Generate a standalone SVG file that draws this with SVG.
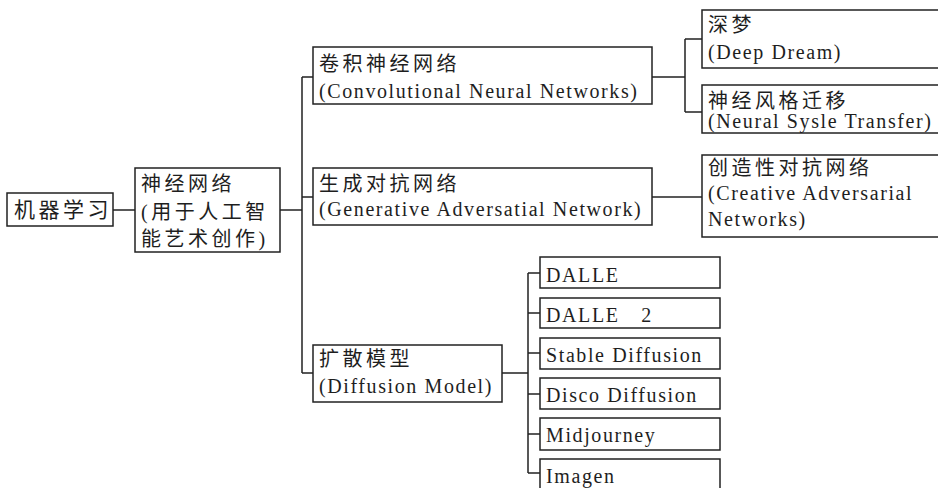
<svg xmlns="http://www.w3.org/2000/svg" width="938" height="488" viewBox="0 0 938 488">
<style>
rect{fill:#fff;stroke:#222;stroke-width:1.5}
#connectors path{fill:none;stroke:#222;stroke-width:1.5}
text{font-size:20px;fill:#1e1e1e;letter-spacing:1.6px}
.c{letter-spacing:3.5px}
</style>
<rect x="0" y="0" width="938" height="488" style="fill:#fff;stroke:none"/>
<g id="connectors">
<path d="M113,210H135"/>
<path d="M280,210H302"/>
<path d="M302,77V373M302,77H313M302,197H313M302,373H313"/>
<path d="M652,77H685M685,39V112M685,39H702M685,112H702"/>
<path d="M652,197H702"/>
<path d="M502,373H528M528,273V473M528,273H540M528,313H540M528,353H540M528,394H540M528,434H540M528,473H540"/>
</g>
<g id="nodes" font-family="Liberation Serif, Noto Sans CJK SC, serif">
<g id="ml"><rect x="7" y="193" width="106" height="33"/><text class="c" x="14" y="217" font-family="Liberation Serif, Noto Sans CJK SC, serif" style="font-size:21px">机器学习</text></g>
<g id="nn"><rect x="135" y="168" width="145" height="84"/>
<text class="c" x="141" y="191" font-family="Liberation Serif, Noto Sans CJK SC, serif">神经网络</text>
<text class="c" x="141" y="219" font-family="Liberation Serif, Noto Sans CJK SC, serif">(用于人工智</text>
<text class="c" x="141" y="246" font-family="Liberation Serif, Noto Sans CJK SC, serif">能艺术创作)</text></g>
<g id="cnn"><rect x="313" y="47" width="339" height="57"/>
<text class="c" x="319" y="71" font-family="Liberation Serif, Noto Sans CJK SC, serif">卷积神经网络</text>
<text x="319" y="98" font-family="Liberation Serif, Noto Sans CJK SC, serif">(Convolutional Neural Networks)</text></g>
<g id="deepdream"><rect x="702" y="10" width="245" height="58"/>
<text class="c" x="708" y="32" font-family="Liberation Serif, Noto Sans CJK SC, serif">深梦</text>
<text x="708" y="59" font-family="Liberation Serif, Noto Sans CJK SC, serif">(Deep Dream)</text></g>
<g id="nst"><rect x="702" y="85" width="245" height="48"/>
<text class="c" x="708" y="108" font-family="Liberation Serif, Noto Sans CJK SC, serif">神经风格迁移</text>
<text x="708" y="128" font-family="Liberation Serif, Noto Sans CJK SC, serif">(Neural Sysle Transfer)</text></g>
<g id="gan"><rect x="313" y="168" width="339" height="57"/>
<text class="c" x="319" y="191" font-family="Liberation Serif, Noto Sans CJK SC, serif">生成对抗网络</text>
<text x="319" y="216" font-family="Liberation Serif, Noto Sans CJK SC, serif">(Generative Adversatial Network)</text></g>
<g id="can"><rect x="702" y="155" width="245" height="82"/>
<text class="c" x="708" y="175" font-family="Liberation Serif, Noto Sans CJK SC, serif">创造性对抗网络</text>
<text x="708" y="200" font-family="Liberation Serif, Noto Sans CJK SC, serif">(Creative Adversarial</text>
<text x="708" y="226" font-family="Liberation Serif, Noto Sans CJK SC, serif">Networks)</text></g>
<g id="diff"><rect x="313" y="345" width="189" height="57"/>
<text class="c" x="319" y="366" font-family="Liberation Serif, Noto Sans CJK SC, serif">扩散模型</text>
<text x="319" y="393" font-family="Liberation Serif, Noto Sans CJK SC, serif">(Diffusion Model)</text></g>
<g id="dalle"><rect x="540" y="257" width="180" height="31"/><text x="546" y="282" font-family="Liberation Serif, Noto Sans CJK SC, serif">DALLE</text></g>
<g id="dalle2"><rect x="540" y="298" width="180" height="30"/><text x="546" y="322" font-family="Liberation Serif, Noto Sans CJK SC, serif">DALLE　2</text></g>
<g id="sd"><rect x="540" y="338" width="180" height="31"/><text x="546" y="362" font-family="Liberation Serif, Noto Sans CJK SC, serif">Stable Diffusion</text></g>
<g id="disco"><rect x="540" y="378" width="180" height="31"/><text x="546" y="402" font-family="Liberation Serif, Noto Sans CJK SC, serif">Disco Diffusion</text></g>
<g id="mj"><rect x="540" y="418" width="180" height="32"/><text x="546" y="442" font-family="Liberation Serif, Noto Sans CJK SC, serif">Midjourney</text></g>
<g id="imagen"><rect x="540" y="459" width="180" height="40"/><text x="546" y="483" font-family="Liberation Serif, Noto Sans CJK SC, serif">Imagen</text></g>
</g>
</svg>
